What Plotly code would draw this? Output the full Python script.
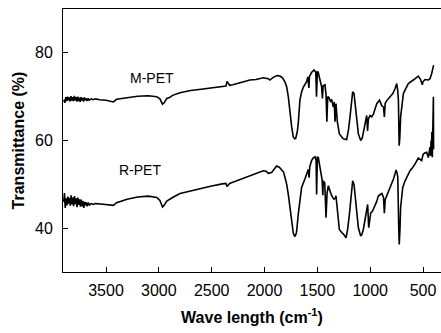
import plotly.graph_objects as go

# ---- data ----
m_wn = [3900, 3890, 3880, 3872, 3864, 3856, 3848, 3840, 3832, 3824, 3816, 3808, 3800, 3792, 3784, 3776,
        3768, 3760, 3752, 3744, 3736, 3728, 3720, 3712, 3704, 3696, 3688, 3680, 3670, 3660, 3640, 3620,
        3600, 3560, 3500, 3450, 3430, 3400, 3300, 3200, 3100, 3020, 2990, 2965, 2950, 2925, 2900, 2870,
        2800, 2700, 2600, 2500, 2400, 2365, 2355, 2345, 2330, 2300, 2200, 2138, 2080, 2012, 1965, 1949,
        1918, 1880, 1854, 1830, 1807, 1790, 1775, 1760, 1743, 1728, 1715, 1705, 1690, 1681, 1665, 1650,
        1634, 1602, 1590, 1580, 1575, 1555, 1532, 1515, 1508, 1500, 1491, 1475, 1460, 1452, 1445, 1428,
        1418, 1410, 1402, 1390, 1375, 1365, 1349, 1340, 1333, 1324, 1311, 1292, 1270, 1255, 1223, 1205,
        1191, 1175, 1166, 1153, 1134, 1112, 1090, 1075, 1065, 1050, 1040, 1033, 1025, 1017, 1001, 985,
        970, 950, 938, 912, 890, 874, 866, 858, 843, 812, 786, 765, 749, 740, 733, 726, 720, 712, 700,
        686, 660, 639, 592, 560, 545, 523, 507, 500, 482, 450, 434, 418, 400]
m_t = [69.3, 68.6, 69.9, 69.0, 70.0, 69.2, 69.8, 68.9, 70.1, 69.1, 69.9, 69.0, 70.2, 69.2, 69.9, 68.9,
       70.0, 69.0, 69.8, 68.8, 69.9, 69.1, 69.7, 68.9, 69.8, 69.2, 69.6, 69.0, 69.6, 69.2, 69.5, 69.3,
       69.5, 69.3, 69.2, 68.9, 68.8, 69.4, 69.8, 70.1, 70.2, 70.0, 69.5, 68.3, 68.6, 69.6, 69.8, 70.3,
       70.9, 71.4, 71.7, 72.0, 72.3, 72.4, 73.5, 73.1, 72.6, 72.7, 73.4, 73.8, 73.9, 74.3, 74.1, 73.8,
       74.4, 74.8, 74.7, 74.3, 73.4, 72.2, 70.0, 66.5, 63.1, 60.8, 60.4, 60.5, 62.0, 63.8, 69.2, 71.0,
       72.1, 73.4, 74.5, 72.0, 74.6, 75.5, 76.1, 75.6, 70.0, 75.8, 75.5, 73.8, 72.3, 69.6, 72.5, 72.7,
       70.5, 64.3, 70.0, 69.8, 68.8, 69.4, 67.6, 68.8, 64.3, 68.4, 64.3, 61.5, 60.8, 60.4, 60.2, 62.5,
       65.4, 70.0, 71.1, 70.7, 65.9, 61.5, 60.0, 60.6, 61.8, 63.4, 64.8, 65.7, 62.2, 64.9, 65.7, 65.4,
       66.0, 67.5, 68.4, 69.2, 67.9, 67.6, 65.4, 68.5, 69.1, 70.0, 70.7, 71.8, 73.0, 71.5, 69.2, 58.8,
       60.5, 65.4, 68.5, 70.7, 72.0, 73.0, 73.8, 74.5, 74.7, 73.9, 72.7, 73.4, 73.9, 73.8, 74.1, 75.3,
       77.2]

r_wn = [3900, 3893, 3886, 3878, 3870, 3862, 3854, 3846, 3838, 3830, 3822, 3814, 3806, 3798, 3790, 3782,
        3774, 3766, 3758, 3750, 3742, 3734, 3726, 3718, 3710, 3702, 3694, 3686, 3678, 3668, 3656, 3640,
        3620, 3600, 3550, 3500, 3450, 3430, 3400, 3300, 3200, 3100, 3020, 2990, 2965, 2950, 2925, 2900,
        2870, 2800, 2700, 2600, 2500, 2400, 2365, 2355, 2345, 2330, 2300, 2200, 2138, 2080, 2012, 1985,
        1965, 1933, 1900, 1886, 1860, 1838, 1820, 1807, 1790, 1775, 1760, 1743, 1728, 1718, 1712, 1700,
        1696, 1681, 1665, 1649, 1618, 1595, 1586, 1578, 1572, 1555, 1540, 1523, 1512, 1507, 1500, 1491,
        1478, 1469, 1455, 1448, 1444, 1430, 1418, 1408, 1396, 1380, 1365, 1343, 1330, 1324, 1311, 1292,
        1270, 1255, 1229, 1215, 1197, 1180, 1166, 1153, 1134, 1112, 1090, 1078, 1065, 1050, 1033, 1024,
        1014, 1005, 995, 980, 963, 940, 922, 900, 890, 874, 866, 858, 849, 830, 812, 795, 780, 765, 755,
        745, 739, 730, 725, 718, 712, 700, 692, 670, 655, 623, 600, 576, 545, 530, 513, 505, 497, 480,
        466, 450, 440, 434, 428, 424, 420, 416, 412, 408, 405, 402, 400]
r_t = [46.0, 48.0, 44.6, 46.8, 45.2, 47.2, 45.6, 46.9, 45.1, 47.5, 45.4, 47.0, 45.0, 47.3, 45.5, 46.8,
       44.8, 47.0, 45.3, 46.6, 44.9, 46.5, 45.0, 46.2, 44.6, 46.0, 45.2, 45.9, 45.0, 45.8, 45.3, 45.6,
       45.4, 45.6, 45.5, 45.4, 45.3, 45.2, 45.8, 46.6, 47.1, 47.3, 47.0, 46.3, 44.8, 45.2, 46.2, 46.5,
       47.0, 47.9, 48.5, 49.1, 49.6, 50.1, 50.2, 49.5, 49.9, 50.2, 50.5, 51.4, 52.0, 52.4, 53.1, 53.0,
       52.5, 52.7, 53.8, 54.2, 53.9, 53.4, 52.8, 51.6, 50.0, 47.7, 44.5, 41.6, 38.9, 38.3, 38.1, 38.8,
       39.3, 43.1, 47.0, 49.3, 51.2, 52.5, 53.4, 51.5, 54.0, 55.4, 56.0, 56.3, 55.5, 47.7, 56.2, 56.1,
       54.0, 52.4, 51.0, 47.5, 50.8, 50.3, 42.4, 48.0, 49.7, 48.5, 47.4, 46.6, 46.8, 47.4, 43.5, 39.7,
       39.0, 38.7, 37.8, 39.5, 43.1, 48.0, 50.8, 50.0, 44.7, 40.1, 38.2, 38.6, 39.7, 41.5, 43.5, 45.4,
       40.1, 42.5, 43.5, 43.8, 44.7, 46.0, 47.4, 47.8, 47.9, 47.0, 43.4, 46.5, 47.0, 48.2, 49.3, 50.3,
       51.2, 52.4, 53.3, 52.5, 51.6, 40.0, 36.3, 40.0, 44.7, 47.5, 49.3, 50.8, 51.6, 53.1, 53.8, 54.6,
       56.0, 55.8, 55.4, 56.3, 56.9, 57.2, 57.3, 56.1, 58.0, 58.5, 56.5, 60.0, 57.0, 62.0, 56.2, 66.0,
       57.5, 70.0, 58.0]

x_ticks = [3500, 3000, 2500, 2000, 1500, 1000, 500]
y_ticks = [40, 60, 80]
labels = ["M-PET", "R-PET"]
label_pos_x = [3066, 3182]
label_pos_y = [74.3, 53.3]

FONT = "Liberation Sans, Arial, sans-serif"

fig = go.Figure()
fig.add_trace(go.Scatter(x=m_wn, y=m_t, mode="lines", line=dict(color="black", width=1.6),
                         showlegend=False, hoverinfo="skip"))
fig.add_trace(go.Scatter(x=r_wn, y=r_t, mode="lines", line=dict(color="black", width=1.6),
                         showlegend=False, hoverinfo="skip"))

for t, lx, ly in zip(labels, label_pos_x, label_pos_y):
    fig.add_annotation(x=lx, y=ly, text=t, showarrow=False,
                       font=dict(family=FONT, size=14, color="black"))

fig.update_layout(
    width=441, height=333,
    margin=dict(l=63, r=0, t=9, b=61),
    paper_bgcolor="white", plot_bgcolor="white",
    font=dict(family=FONT, color="black"),
    xaxis=dict(range=[3907, 330], tickvals=x_ticks, ticktext=[str(v) for v in x_ticks],
               automargin=False,
               ticks="inside", ticklen=5, tickwidth=1, tickcolor="black",
               showline=True, linecolor="black", linewidth=1, mirror=True,
               showgrid=False, zeroline=False, ticklabelstandoff=4,
               tickfont=dict(family=FONT, size=16, color="black"),
               title=dict(text="<b>Wave length (cm<sup>-1</sup>)</b>",
                          font=dict(family=FONT, size=16, color="black"), standoff=13)),
    yaxis=dict(range=[30, 90], tickvals=y_ticks, ticktext=[str(v) for v in y_ticks],
               automargin=False,
               ticks="inside", ticklen=5, tickwidth=1, tickcolor="black",
               showline=True, linecolor="black", linewidth=1, mirror=False,
               showgrid=False, zeroline=False, ticklabelstandoff=6,
               tickfont=dict(family=FONT, size=16, color="black"),
               title=dict(text="<b>Transmittance (%)</b>",
                          font=dict(family=FONT, size=16, color="black"), standoff=6)),
)

fig.write_html("out.html", config={"displayModeBar": False},
               post_script="document.body.style.margin='0';document.body.style.overflow='hidden';")
